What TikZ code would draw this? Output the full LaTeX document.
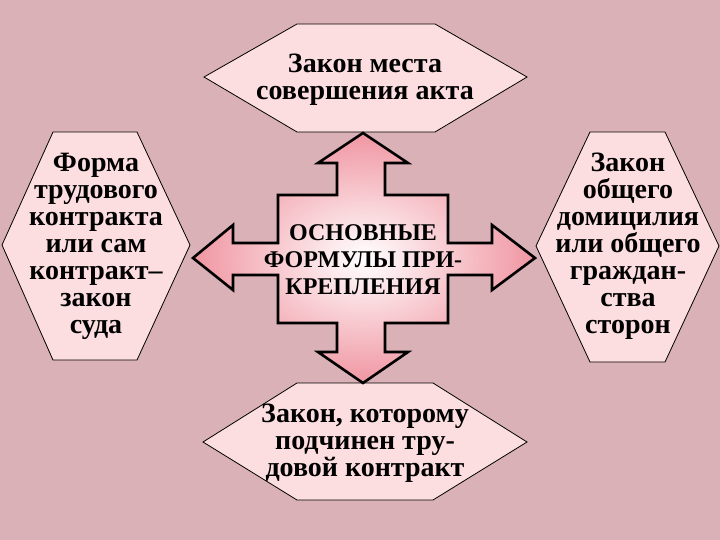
\documentclass[tikz,border=0pt]{standalone}
\usepackage{fontspec}
\setmainfont{Liberation Serif}
\definecolor{bgpink}{RGB}{217,177,183}
\definecolor{hexfill}{RGB}{253,222,224}
\definecolor{crossout}{RGB}{240,150,162}
\tikzset{
  hexbox/.style={draw=black, line width=0.8pt, fill=hexfill, line join=miter},
  hextext/.style={align=center, font=\fontsize{28}{27}\selectfont\bfseries, inner sep=0pt},
  centertext/.style={align=center, font=\fontsize{24}{27}\selectfont\bfseries, inner sep=0pt},
  crossshape/.style={draw=black, line width=2.6pt, line join=miter, inner color=white, outer color=crossout}
}
\begin{document}
\begin{tikzpicture}[x=1pt, y=-1pt]
\useasboundingbox (0,0) rectangle (720,540);
\fill[bgpink] (0,0) rectangle (720,540);
% hexagons
\draw[hexbox] (204,77) -- (297,24) -- (435,24) -- (527,77) -- (435,132) -- (297,132) -- cycle;
\draw[hexbox] (203,442) -- (297,383) -- (433,383) -- (527,442) -- (433,500) -- (297,500) -- cycle;
\draw[hexbox] (53,132) -- (137,132) -- (190,245) -- (137,360) -- (53,360) -- (2,245) -- cycle;
\draw[hexbox] (590,132) -- (665,132) -- (719,246) -- (665,362) -- (590,362) -- (536,246) -- cycle;
% cross arrow
\path[crossshape] (363,133) -- (408,163) -- (385,163) -- (385,195) -- (448,195) -- (448,243)
  -- (492,243) -- (492,225) -- (535,258) -- (492,290) -- (492,275) -- (448,275)
  -- (448,323) -- (385,323) -- (385,352) -- (408,352) -- (363,383) -- (318,352)
  -- (337,352) -- (337,323) -- (278,323) -- (278,275) -- (233,275) -- (233,290)
  -- (193,258) -- (233,225) -- (233,243) -- (278,243) -- (278,195) -- (337,195)
  -- (337,163) -- (318,163) -- cycle;
% texts
\node[hextext] (top) at (365,80) {Закон места\\совершения акта};
\node[hextext] (bottom) at (365,443) {Закон, которому\\подчинен тру-\\довой контракт};
\node[hextext] (left) at (96,246) {Форма\\трудового\\контракта\\или сам\\контракт–\\закон\\суда};
\node[hextext] (right) at (628,246) {Закон\\общего\\домицилия\\или общего\\граждан-\\ства\\сторон};
\node[centertext] (center) at (363,260) {ОСНОВНЫЕ\\ФОРМУЛЫ ПРИ-\\КРЕПЛЕНИЯ};
\end{tikzpicture}
\end{document}
